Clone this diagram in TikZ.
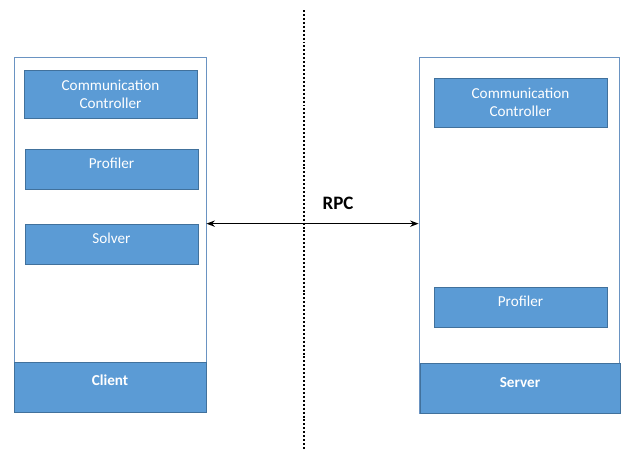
\documentclass[tikz,border=0pt]{standalone}
\usepackage{fontspec}
\setmainfont{Carlito}
\usetikzlibrary{arrows.meta}

\definecolor{boxfill}{HTML}{5B9BD5}
\definecolor{boxline}{HTML}{41719C}
\definecolor{frameline}{HTML}{6A93C2}

\tikzset{
  frame/.style={draw=frameline, line width=0.6pt, fill=white, inner sep=0pt},
  blk/.style={draw=boxline, fill=boxfill, text=white, line width=0.5pt, inner sep=0pt,
    font=\fontsize{10.8}{12.8}\selectfont, minimum width=4.325cm,
    text height=0.475cm, text depth=0.525cm},
  twoline/.style={blk, text height=, text depth=, align=center, minimum height=1.2cm},
  band/.style={blk, font=\fontsize{10.8}{12.8}\selectfont\bfseries,
    text height=0.575cm, text depth=0.675cm},
}

\begin{document}
\begin{tikzpicture}[x=0.025cm, y=-0.025cm]
    \useasboundingbox (0,0) rectangle (621,450);
    % separator between the two machines
    \coordinate (top) at (304,10);
    \coordinate (bot) at (304,450);
    \draw[line width=1.4pt, dash pattern=on 1.4pt off 1.4pt] (top) -- (bot);
    % client side
    \node[frame, minimum width=4.8cm, minimum height=8.875cm] (cli) at (110,234.5) {};
    \node[twoline] (ccomm) at (110.5,94) {Communication\\Controller};
    \node[blk] (cprof) at (111.5,169) {Profiler};
    \node[blk] (solver) at (111.5,244) {Solver};
    \node[band, minimum width=4.8cm] (client) at (110,387) {Client};
    % server side
    \node[frame, minimum width=5cm, minimum height=8.9cm] (srv) at (519,235) {};
    \node[twoline, minimum height=1.225cm] (scomm) at (520.5,102.5) {Communication\\Controller};
    \node[blk] (sprof) at (520.5,307) {Profiler};
    \node[band, minimum width=5cm, text height=0.6cm, text depth=0.65cm] (server) at (520,388) {Server};
    % rpc link
    \draw[line width=0.9pt, {Stealth[length=6pt,width=4.5pt]}-{Stealth[length=6pt,width=4.5pt]}]
        (solver.north -| cli.east) -- (solver.north -| srv.west);
    \node[font=\fontsize{13.5}{16}\selectfont\bfseries] (rpc) at (338,203) {RPC};
\end{tikzpicture}
\end{document}
